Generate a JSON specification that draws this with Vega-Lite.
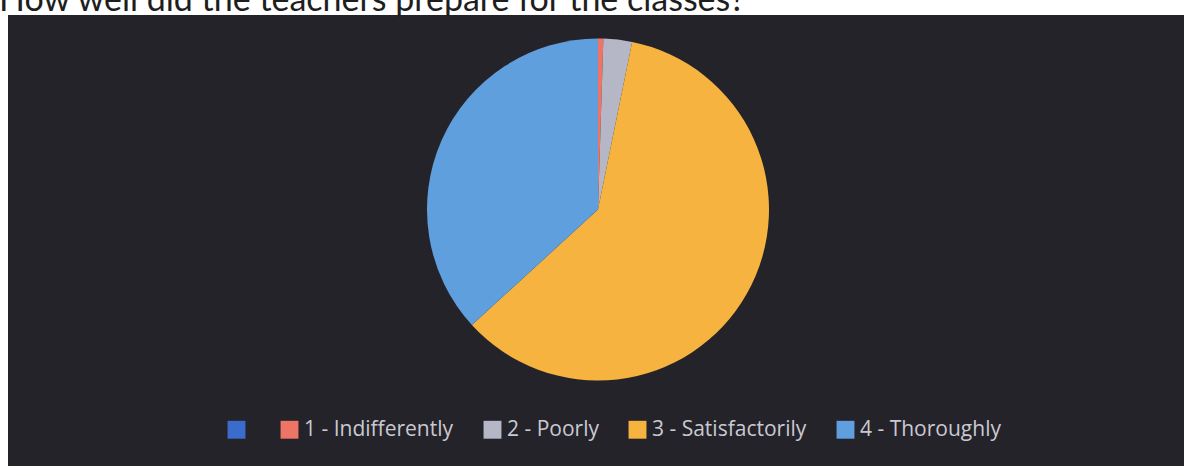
{
  "$schema": "https://vega.github.io/schema/vega-lite/v6.json",
  "autosize": {"type": "none"},
  "width": 1176,
  "height": 451,
  "padding": {"left": 8, "top": 15, "right": 0, "bottom": 0},
  "background": "#ffffff",
  "title": {
    "text": "How well did the teachers prepare for the classes?",
    "anchor": "start",
    "frame": "group",
    "font": "Lato",
    "fontSize": 34,
    "fontWeight": "normal",
    "color": "#1e1e1e",
    "baseline": "alphabetic",
    "offset": 0,
    "dx": -9,
    "dy": 30
  },
  "view": {"fill": "#25232a", "stroke": null},
  "data": {
    "values": [
      {"category": "", "share": 0},
      {"category": "1 - Indifferently", "share": 0.5},
      {"category": "2 - Poorly", "share": 2.7},
      {"category": "3 - Satisfactorily", "share": 60.0},
      {"category": "4 - Thoroughly", "share": 36.8}
    ]
  },
  "mark": {"type": "arc", "radius": 171, "xOffset": 2, "yOffset": -31},
  "encoding": {
    "theta": {"field": "share", "type": "quantitative", "stack": true},
    "order": {"field": "category", "sort": "ascending"},
    "color": {
      "field": "category",
      "type": "nominal",
      "scale": {
        "domain": ["", "1 - Indifferently", "2 - Poorly", "3 - Satisfactorily", "4 - Thoroughly"],
        "range": ["#3a6ccc", "#ee7466", "#b6b7c6", "#f6b33f", "#5f9fdd"]
      },
      "legend": {
        "title": null,
        "orient": "none",
        "direction": "horizontal",
        "legendX": 218,
        "legendY": 404,
        "symbolType": "square",
        "symbolSize": 320,
        "symbolStrokeWidth": 0,
        "symbolOpacity": 1,
        "labelFont": "Open Sans",
        "labelFontSize": 21,
        "labelColor": "#c9c9d2",
        "labelOffset": 4,
        "columnPadding": 28
      }
    }
  }
}
